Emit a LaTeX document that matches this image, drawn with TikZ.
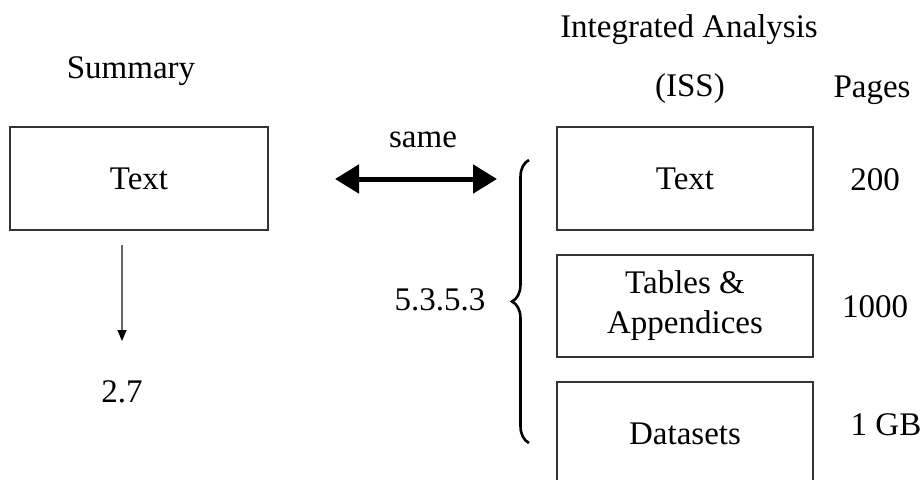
\documentclass[tikz,border=0pt]{standalone}
\usepackage{fontspec}
\setmainfont{Liberation Serif}
\usetikzlibrary{arrows.meta,decorations.pathreplacing}
\begin{document}
\begin{tikzpicture}[x=1pt,y=-1pt,
    every node/.style={font=\rmfamily\fontsize{33}{40}\selectfont},
    doc/.style={shape=rectangle,draw=black!80,line width=1.6pt,minimum width=256pt,minimum height=103pt,align=center},
    lbl/.style={anchor=base}]
    \path[use as bounding box,clip] (0,0) rectangle (923,479);

    % left column
    \node[lbl] (summary) at (131,78) {Summary};
    \node[doc,minimum width=258pt] (stext) at (139,178.5) {Text};
    \node[lbl] (sec) at (122,402) {2.7};
    \coordinate (down1) at (122,245);
    \coordinate (down2) at (122,341);

    % right column
    \node[lbl] (iss1) at (689,37) {Integrated Analysis};
    \node[lbl] (iss2) at (690,96) {(ISS)};
    \node[lbl] (pages) at (872,97) {Pages};
    \node[doc] (itext) at (685,178.5) {Text};
    \node[doc,minimum height=102pt] (itab) at (685,306) {Tables \&\\Appendices};
    \node[doc] (idata) at (685,433.5) {Datasets};
    \node[lbl] (p200) at (875,190) {200};
    \node[lbl] (p1000) at (875,317) {1000};
    \node[lbl] (p1gb) at (886,435) {1 GB};

    % middle
    \node[lbl] (same) at (423,147) {same};
    \node[lbl] (sect) at (440,310) {5.3.5.3};
    \coordinate (sameL) at (335,179);
    \coordinate (sameR) at (497,179);
    \coordinate (braceB) at (529,443);
    \coordinate (braceT) at (529,160);

    \draw [{Triangle[width=28pt,length=24pt]}-{Triangle[width=28pt,length=24pt]},line width=5pt] (sameL) -- (sameR);
    \draw [-{Triangle[width=9pt,length=11pt,black]},draw=black!60,line width=1.2pt] (down1) -- (down2);
    \draw [decorate,decoration={brace,amplitude=17pt},line width=2.6pt] (braceB) -- (braceT);
\end{tikzpicture}
\end{document}
